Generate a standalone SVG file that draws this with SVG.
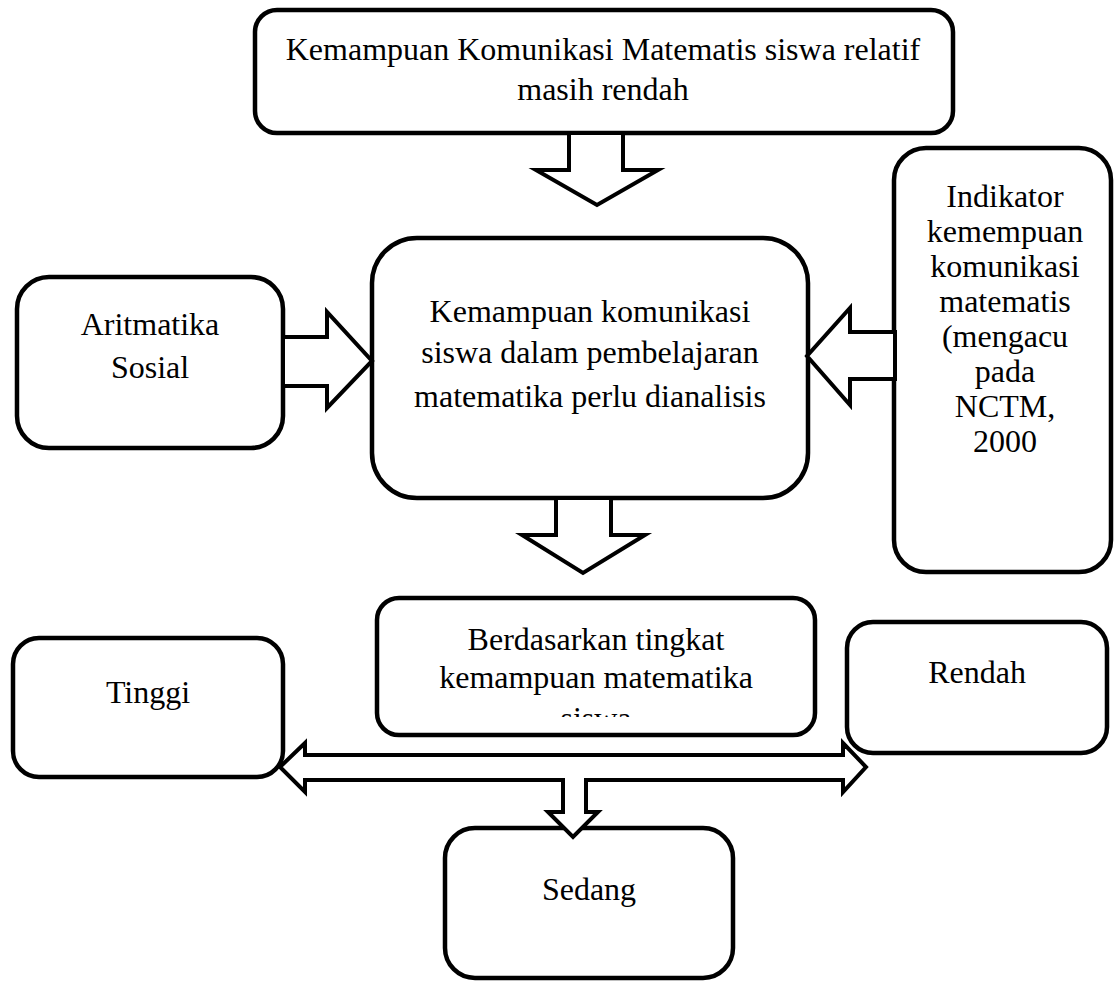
<svg xmlns="http://www.w3.org/2000/svg" width="1114" height="981" viewBox="0 0 1114 981">
<style>
.box{fill:#fff;stroke:#000;stroke-width:4.5}
.arr{fill:#fff;stroke:#000;stroke-width:4;stroke-linejoin:miter}
text{font-family:"Liberation Serif","Times New Roman",serif;font-size:32px;fill:#000;text-anchor:middle}
</style>
<defs>
<clipPath id="clipB"><rect x="370" y="590" width="450" height="127"/></clipPath>
</defs>
<rect width="1114" height="981" fill="#fff"/>
<g id="top">
<rect class="box" x="255" y="10" width="698" height="123" rx="22"/>
<text x="603" y="60">Kemampuan Komunikasi Matematis siswa relatif</text>
<text x="603" y="100">masih rendah</text>
</g>
<g id="aritmatika">
<rect class="box" x="17" y="277" width="266" height="171" rx="32"/>
<text x="150" y="335">Aritmatika</text>
<text x="150" y="378">Sosial</text>
</g>
<g id="middle">
<rect class="box" x="372" y="238" width="436" height="260" rx="45"/>
<text x="590" y="322">Kemampuan komunikasi</text>
<text x="590" y="363">siswa dalam pembelajaran</text>
<text x="590" y="407">matematika perlu dianalisis</text>
</g>
<g id="indikator">
<rect class="box" x="894" y="148" width="217" height="424" rx="32"/>
<text x="1005" y="207">Indikator</text>
<text x="1005" y="242">kemempuan</text>
<text x="1005" y="277">komunikasi</text>
<text x="1005" y="312">matematis</text>
<text x="1005" y="347">(mengacu</text>
<text x="1005" y="382">pada</text>
<text x="1005" y="417">NCTM,</text>
<text x="1005" y="452">2000</text>
</g>
<g id="berdasarkan">
<rect class="box" x="377" y="598" width="438" height="137" rx="22"/>
<g clip-path="url(#clipB)">
<text x="596" y="650">Berdasarkan tingkat</text>
<text x="596" y="688">kemampuan matematika</text>
<text x="596" y="729">siswa</text>
</g>
</g>
<g id="tinggi">
<rect class="box" x="13" y="638" width="270" height="139" rx="26"/>
<text x="148" y="703">Tinggi</text>
</g>
<g id="rendah">
<rect class="box" x="847" y="622" width="260" height="131" rx="26"/>
<text x="977" y="683">Rendah</text>
</g>
<g id="sedang">
<rect class="box" x="445" y="828" width="288" height="150" rx="30"/>
<text x="589" y="900">Sedang</text>
</g>
<g id="connectors">
<polygon class="arr" points="569,133 569,170 536,170 597,205 658,170 623,170 623,133"/>
<polygon class="arr" points="283,337 327,337 327,312 372,361 327,408 327,386 283,386"/>
<polygon class="arr" points="895,332 850,332 850,308 807,356 850,405 850,379 895,379"/>
<polygon class="arr" points="556,498 556,535 522,535 583,573 645,535 611,535 611,498"/>
<polygon class="arr" points="280,767 305,743 305,755 843,755 843,743 866,767 843,792 843,780 586,780 586,812 598,812 573,837 548,812 563,812 563,780 305,780 305,792"/>
</g>
</svg>
